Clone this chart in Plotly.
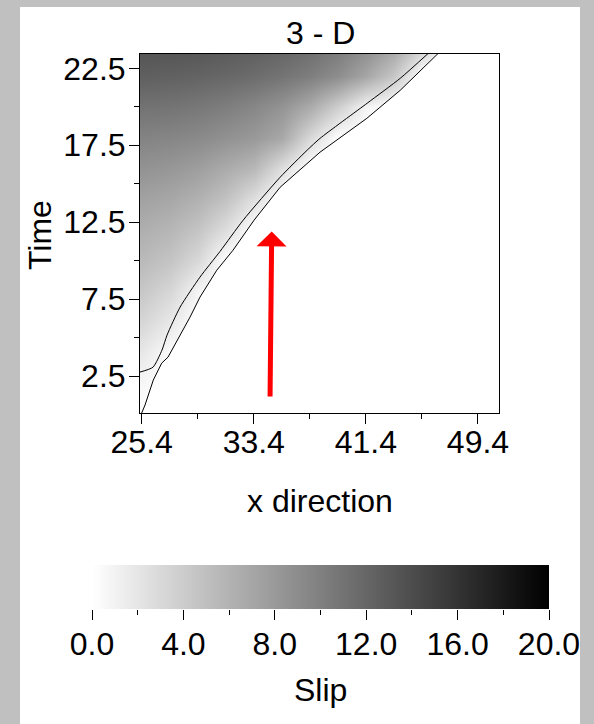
import plotly.graph_objects as go

# ---- data ----
x_cols = [25.4, 27.4, 29.4, 31.4, 33.4, 35.4, 37.4, 39.4, 41.4, 43.4, 45.4, 47.4, 49.4, 51.4]
t_rows = [0, 2, 4, 6, 8, 10, 12, 14, 16, 18, 20, 22, 24]
slip = [
    [0.0, 0.0, 0.0, 0.0, 0.0, 0.0, 0.0, 0.0, 0.0, 0.0, 0.0, 0.0, 0.0, 0.0],
    [0.6, 0.0, 0.0, 0.0, 0.0, 0.0, 0.0, 0.0, 0.0, 0.0, 0.0, 0.0, 0.0, 0.0],
    [1.8, 0.3, 0.0, 0.0, 0.0, 0.0, 0.0, 0.0, 0.0, 0.0, 0.0, 0.0, 0.0, 0.0],
    [3.2, 1.8, 0.0, 0.0, 0.0, 0.0, 0.0, 0.0, 0.0, 0.0, 0.0, 0.0, 0.0, 0.0],
    [4.4, 3.2, 0.8, 0.0, 0.0, 0.0, 0.0, 0.0, 0.0, 0.0, 0.0, 0.0, 0.0, 0.0],
    [5.4, 4.6, 3.0, 0.0, 0.0, 0.0, 0.0, 0.0, 0.0, 0.0, 0.0, 0.0, 0.0, 0.0],
    [6.3, 5.7, 4.6, 2.6, 0.0, 0.0, 0.0, 0.0, 0.0, 0.0, 0.0, 0.0, 0.0, 0.0],
    [7.3, 6.9, 6.1, 4.8, 2.5, 0.0, 0.0, 0.0, 0.0, 0.0, 0.0, 0.0, 0.0, 0.0],
    [8.5, 8.2, 7.6, 6.6, 5.6, 2.6, 0.0, 0.0, 0.0, 0.0, 0.0, 0.0, 0.0, 0.0],
    [9.7, 9.5, 9.2, 8.6, 8.0, 6.8, 3.0, 0.0, 0.0, 0.0, 0.0, 0.0, 0.0, 0.0],
    [11.0, 10.9, 10.6, 10.1, 9.4, 8.4, 6.6, 3.8, 0.8, 0.0, 0.0, 0.0, 0.0, 0.0],
    [12.5, 12.4, 12.2, 11.9, 11.5, 10.9, 10.1, 8.9, 7.0, 4.4, 0.0, 0.0, 0.0, 0.0],
    [13.6, 13.5, 13.4, 13.1, 12.8, 12.3, 11.6, 10.6, 9.2, 7.4, 4.0, 0.0, 0.0, 0.0],
]

# rupture front (stair-stepped line)
front_x = [25.40, 25.64, 26.23, 26.83, 27.28, 28.14, 28.85, 29.56, 30.76, 31.92,
           33.42, 35.28, 38.13, 41.47, 43.85, 46.56]
front_t = [0.10, 0.62, 2.24, 3.34, 3.73, 5.16, 6.33, 7.63, 9.38, 10.68,
           12.63, 14.77, 17.05, 19.25, 21.07, 23.47]

# smooth contour behind the front
contour_x = [25.28, 26.21, 26.85, 27.21, 28.14, 29.56, 30.99, 32.64, 35.28,
             37.21, 38.13, 41.49, 43.85, 45.85]
contour_t = [2.76, 3.08, 4.19, 5.16, 6.98, 8.93, 10.60, 12.63, 15.42,
             17.18, 17.95, 20.23, 21.85, 23.47]

# red arrow (tail, head)
arrow_x = [34.56, 34.68]
arrow_t = [1.07, 11.9]

x_ticks = [25.4, 33.4, 41.4, 49.4]
y_ticks = [2.5, 7.5, 12.5, 17.5, 22.5]
slip_ticks = [0, 4, 8, 12, 16, 20]

FONT = "Liberation Sans, Arial, sans-serif"
FS = 32
gray_scale = [[0, "#ffffff"], [1, "#000000"]]

fig = go.Figure()

fig.add_trace(go.Heatmap(
    x=x_cols, y=t_rows, z=slip, zmin=0, zmax=20, zsmooth="best",
    colorscale=gray_scale, showscale=False, hoverinfo="skip",
    xaxis="x", yaxis="y"))

# white area ahead of the rupture front
mask_x = [front_x[0]] + front_x + [x_cols[-1], x_cols[-1]]
mask_t = [t_rows[0]] + front_t + [t_rows[-1], t_rows[0]]
fig.add_trace(go.Scatter(
    x=mask_x, y=mask_t, mode="lines", fill="toself", fillcolor="white",
    line=dict(width=0, color="white"), hoverinfo="skip", showlegend=False))

fig.add_trace(go.Scatter(
    x=front_x, y=front_t, mode="lines", line=dict(color="black", width=1),
    hoverinfo="skip", showlegend=False))
fig.add_trace(go.Scatter(
    x=contour_x, y=contour_t, mode="lines",
    line=dict(color="black", width=1, shape="spline", smoothing=0.6),
    hoverinfo="skip", showlegend=False))

# colour bar drawn as its own heatmap
fig.add_trace(go.Heatmap(
    x=slip_ticks, y=[0, 1], z=[slip_ticks, slip_ticks], zmin=0, zmax=20,
    zsmooth="best", colorscale=gray_scale, showscale=False, hoverinfo="skip",
    xaxis="x2", yaxis="y2"))

W, H = 594, 724
L, R, T, B = 92, 45, 54, 115
pw = W - L - R
ph = H - T - B


def px_x(p):
    return (p - L) / pw


def px_y(p):
    return (H - B - p) / ph


tickfont = dict(family=FONT, size=FS, color="black")


def label(text, x, y, angle=0):
    return dict(text=text, xref="paper", yref="paper", x=px_x(x), y=px_y(y),
                xanchor="center", yanchor="middle", textangle=angle,
                showarrow=False, font=dict(family=FONT, size=FS, color="black"))


fig.update_layout(
    width=W, height=H,
    margin=dict(l=L, r=R, t=T, b=B, pad=0),
    paper_bgcolor="#c0c0c0", plot_bgcolor="white",
    showlegend=False,
    font=dict(family=FONT, color="black"),
    xaxis=dict(
        domain=[px_x(140), px_x(499)], range=[25.28, 50.9], anchor="y",
        tickmode="array", tickvals=x_ticks, ticktext=[f"{v:.1f}" for v in x_ticks],
        ticks="outside", ticklen=10, tickwidth=1, tickcolor="black",
        ticklabelstandoff=-9,
        minor=dict(tickmode="linear", tick0=x_ticks[0], dtick=4, ticklen=5,
                   ticks="outside", tickcolor="black", tickwidth=1),
        showline=True, mirror=True, linecolor="black", linewidth=1,
        showgrid=False, zeroline=False, tickfont=tickfont),
    yaxis=dict(
        domain=[px_y(413), px_y(54)], range=[0.1, 23.43], anchor="x",
        tickmode="array", tickvals=y_ticks, ticktext=[f"{v:.1f}" for v in y_ticks],
        ticks="outside", ticklen=10, tickwidth=1, tickcolor="black",
        ticklabelstandoff=-3,
        minor=dict(tickmode="linear", tick0=0, dtick=5, ticklen=5,
                   ticks="outside", tickcolor="black", tickwidth=1),
        showline=True, mirror=True, linecolor="black", linewidth=1,
        showgrid=False, zeroline=False, tickfont=tickfont),
    xaxis2=dict(
        domain=[0, 1], range=[0, 20], anchor="y2",
        tickmode="array", tickvals=slip_ticks, ticktext=[f"{v:.1f}" for v in slip_ticks],
        ticks="outside", ticklen=10, tickwidth=1, tickcolor="black",
        ticklabelstandoff=-3,
        minor=dict(tickmode="linear", tick0=0, dtick=2, ticklen=5,
                   ticks="outside", tickcolor="black", tickwidth=1),
        showline=False, showgrid=False, zeroline=False, tickfont=tickfont),
    yaxis2=dict(domain=[0, px_y(565)], range=[0, 1], anchor="x2", visible=False),
    shapes=[dict(type="rect", xref="paper", yref="paper", layer="below",
                 x0=px_x(20), x1=px_x(580), y0=px_y(730), y1=px_y(7),
                 fillcolor="white", line=dict(width=0))],
    annotations=[
        label("3 - D", 320, 33),
        label("Time", 40, 235, -90),
        label("x direction", 320, 501),
        label("Slip", 320, 690),
        dict(text="", xref="x", yref="y", x=arrow_x[1], y=arrow_t[1],
             axref="x", ayref="y", ax=arrow_x[0], ay=arrow_t[0],
             showarrow=True, arrowhead=1, arrowsize=1.0, arrowwidth=5,
             arrowcolor="red"),
    ],
)

fig.write_html(
    "out.html",
    config={"displayModeBar": False},
    post_script="document.body.style.margin='0';"
                "document.body.style.background='#c0c0c0';",
)
